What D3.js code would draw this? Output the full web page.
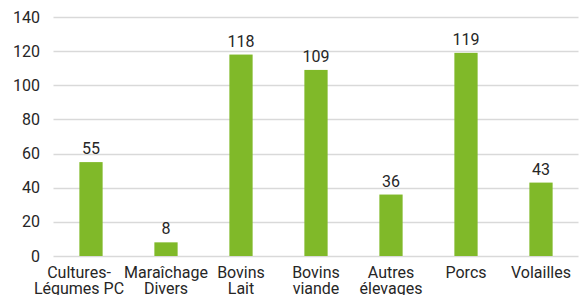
<!DOCTYPE html>
<html>
<head>
<meta charset="utf-8">
<script src="https://cdn.jsdelivr.net/npm/d3@7"></script>
<style>
  html, body { margin: 0; padding: 0; background: #fff; }
  svg text { font-family: Roboto, "DejaVu Sans", sans-serif; fill: #262626; }
</style>
</head>
<body>
<svg id="chart" width="584" height="295"></svg>
<script>
const categories = [
  ["Cultures-", "Légumes PC"],
  ["Maraîchage", "Divers"],
  ["Bovins", "Lait"],
  ["Bovins", "viande"],
  ["Autres", "élevages"],
  ["Porcs"],
  ["Volailles"]
];
const values = [55, 8, 118, 109, 36, 119, 43];
const yTicks = [0, 20, 40, 60, 80, 100, 120, 140];

(function () {
const svg = d3.select("#chart");
const mLeft = 53.5, mRight = 578.5, mTop = 17, mBottom = 256;
const fs = 16;

const x = d3.scaleBand()
  .domain(d3.range(categories.length))
  .range([mLeft, mRight])
  .paddingInner(0.69)
  .paddingOuter(0.345);

const y = d3.scaleLinear().domain([0, 140]).range([mBottom, mTop]);

// gridlines
svg.append("g").selectAll("line")
  .data(yTicks)
  .join("line")
  .attr("x1", mLeft).attr("x2", mRight)
  .attr("y1", d => Math.round(y(d)) + 0.5)
  .attr("y2", d => Math.round(y(d)) + 0.5)
  .attr("stroke", "#d9d9d9")
  .attr("stroke-width", 1.5);

// y tick labels
svg.append("g").selectAll("text")
  .data(yTicks)
  .join("text")
  .attr("x", 40)
  .attr("y", d => y(d))
  .attr("dy", "0.35em")
  .attr("text-anchor", "end")
  .attr("font-size", fs)
  .text(d => d);

// bars
svg.append("g").selectAll("rect")
  .data(values)
  .join("rect")
  .attr("x", (d, i) => x(i))
  .attr("width", x.bandwidth())
  .attr("y", d => y(d))
  .attr("height", d => y(0) - y(d))
  .attr("fill", "#80b929");

// value labels
svg.append("g").selectAll("text")
  .data(values)
  .join("text")
  .attr("x", (d, i) => x(i) + x.bandwidth() / 2)
  .attr("y", d => y(d) - 8)
  .attr("text-anchor", "middle")
  .attr("font-size", fs)
  .text(d => d);

// category labels (first one sits a little left of its bar, as in the source)
const cat = svg.append("g").selectAll("text")
  .data(categories)
  .join("text")
  .attr("text-anchor", "middle")
  .attr("font-size", fs);
cat.each(function(lines, i) {
  const t = d3.select(this);
  const cx = x(i) + x.bandwidth() / 2 - (i === 0 ? 12 : 0);
  lines.forEach((ln, j) => {
    t.append("tspan")
      .attr("x", cx)
      .attr("y", 277.5 + j * 16)
      .text(ln);
  });
});
})();
</script>
</body>
</html>
